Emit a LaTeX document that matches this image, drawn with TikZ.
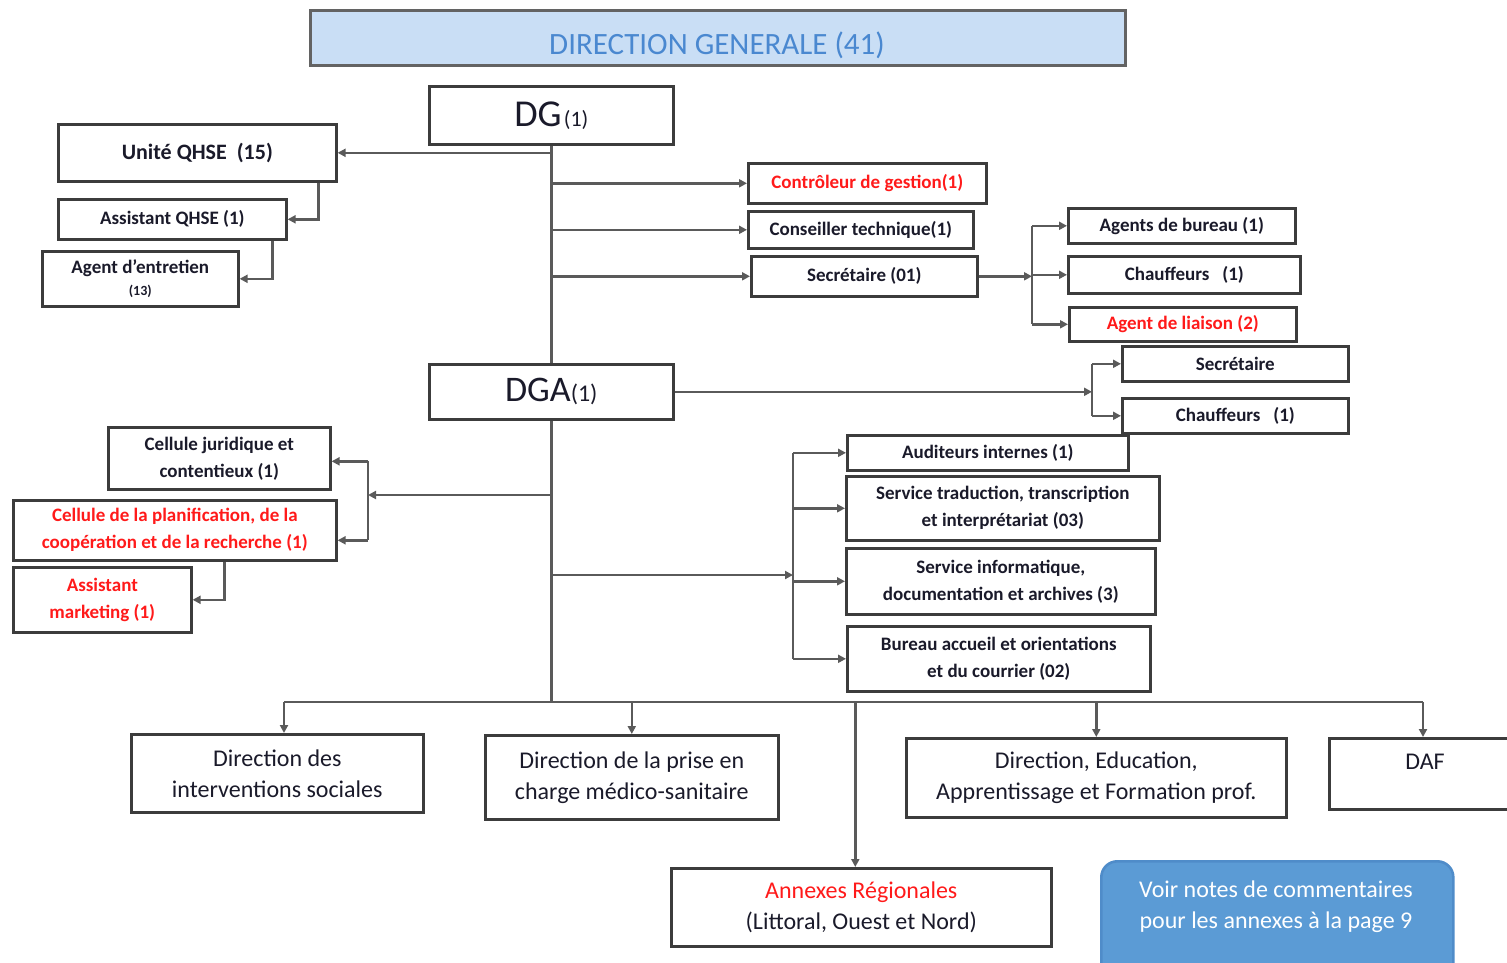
\documentclass[tikz,border=0pt]{standalone}
\usepackage{fontspec}
\setmainfont{Carlito}
\usetikzlibrary{arrows.meta}
\definecolor{linec}{HTML}{5A5A5A}
\definecolor{boxc}{HTML}{3C3C3C}
\definecolor{redt}{HTML}{FF1A1A}
\definecolor{hdrfill}{HTML}{C9DEF5}
\definecolor{hdrtext}{HTML}{4A88D0}
\definecolor{notefill}{HTML}{5B9BD5}
\definecolor{notedraw}{HTML}{4F8CC9}
\definecolor{txt}{HTML}{1A1A2A}
\tikzset{
  box/.style={draw=boxc, line width=2.6pt, fill=white, inner sep=0pt, anchor=north west, align=center, text=txt},
  sm/.style={font=\bfseries\fontsize{19}{27}\selectfont},
  big/.style={font=\fontsize{24}{31}\selectfont},
  conn/.style={draw=linec, line width=2.4pt},
  arr/.style={conn, -{Triangle[length=8pt,width=8pt]}},
}
\begin{document}
\begin{tikzpicture}[x=1pt,y=-1pt]
\useasboundingbox (0,0) rectangle (1507,962);
\clip (0,0) rectangle (1507,962);
% header
\node[box, draw=boxc!80, fill=hdrfill, minimum width=815, minimum height=55] (hdr) at (309,9) {};
\node[text=hdrtext, font=\fontsize{31}{33}\selectfont] (hdrt) at (717,45) {DIRECTION GENERALE (41)};
% top level
\node[box, minimum width=244, minimum height=58] (dg) at (428,85) {{\fontsize{38}{40}\selectfont DG}~{\fontsize{22}{24}\selectfont (1)}};
\node[box, minimum width=244, minimum height=55] (dga) at (428,363) {{\fontsize{36}{40}\selectfont DGA}{\fontsize{24}{24}\selectfont (1)}};
% left top
\node[box, font=\bfseries\fontsize{22}{26}\selectfont, minimum width=278, minimum height=57] (qhse) at (57,123) {Unité QHSE~~(15)};
\node[box, sm, minimum width=228, minimum height=40] (aqhse) at (57,198) {Assistant QHSE (1)};
\node[box, sm, minimum width=196, minimum height=55] (agent) at (41,250) {Agent d'entretien\\[-5pt]{\fontsize{14}{15}\selectfont (13)}};
% right top
\node[box, sm, text=redt, minimum width=238, minimum height=40] (ctrl) at (747,162) {Contrôleur de gestion(1)};
\node[box, sm, minimum width=225, minimum height=37] (cons) at (747,210) {Conseiller technique(1)};
\node[box, sm, minimum width=226, minimum height=40] (sec) at (750,255) {Secrétaire (01)};
\node[box, sm, minimum width=227, minimum height=35] (bur) at (1067,207) {Agents de bureau (1)};
\node[box, sm, minimum width=232, minimum height=37] (chf) at (1067,255) {Chauffeurs~~~(1)};
\node[box, sm, text=redt, minimum width=227, minimum height=34] (liai) at (1068,306) {Agent de liaison (2)};
\node[box, sm, minimum width=226, minimum height=35] (sec2) at (1121,345) {Secrétaire};
\node[box, sm, minimum width=226, minimum height=35] (chf2) at (1121,397) {Chauffeurs~~~(1)};
% left middle
\node[box, sm, minimum width=222, minimum height=62] (cjur) at (107,426) {Cellule juridique et\\contentieux (1)};
\node[box, sm, text=redt, minimum width=323, minimum height=60] (cplan) at (12,499) {Cellule de la planification, de la\\coopération et de la recherche (1)};
\node[box, sm, text=redt, minimum width=178, minimum height=65] (mkt) at (12,566) {Assistant\\marketing (1)};
% right middle
\node[box, sm, minimum width=281, minimum height=35] (aud) at (846,434) {Auditeurs internes (1)};
\node[box, sm, minimum width=313, minimum height=64] (trad) at (845,475) {Service traduction, transcription\\et interprétariat (03)};
\node[box, sm, minimum width=309, minimum height=66] (info) at (845,547) {Service informatique,\\documentation et archives (3)};
\node[box, sm, minimum width=303, minimum height=65] (bacc) at (846,625) {Bureau accueil et orientations\\et du courrier (02)};
% bottom
\node[box, big, minimum width=292, minimum height=78] (dis) at (130,733) {Direction des\\interventions sociales};
\node[box, big, minimum width=293, minimum height=84] (dpc) at (484,734) {Direction de la prise en\\charge médico-sanitaire};
\node[box, big, minimum width=380, minimum height=79] (dea) at (905,737) {Direction, Education,\\Apprentissage et Formation prof.};
\node[box, minimum width=200, minimum height=71] (daf) at (1328,737) {};
\node[big, text=txt] (daft) at (1425,762) {DAF};
\node[box, big, minimum width=380, minimum height=78] (ann) at (670,867) {\textcolor{redt}{Annexes Régionales}\\(Littoral, Ouest et Nord)};
\node[box, big, draw=notedraw, fill=notefill, text=white, rounded corners=16pt, minimum width=352, minimum height=120] (note) at (1100,860) {};
\node[big, text=white, align=center] (notet) at (1276,907) {Voir notes de commentaires\\pour les annexes à la page 9};
% connectors
\coordinate (busL) at (284,702);
\coordinate (busR) at (1423,702);
\draw[conn] (dg.south) -- (dg.south |- dga.north);
\draw[conn] (dga.south) -- (dga.south |- busL);
\draw[conn] (busL) -- (busR);
\draw[arr] (busL) -- (busL |- dis.north);
\draw[arr] (dpc.north |- busL) -- (dpc.north);
\draw[arr] (dea.north |- busL) -- (dea.north);
\draw[arr] (busR) -- (busR |- daf.north);
\draw[arr] ([xshift=-6pt]ann.north |- busL) -- ([xshift=-6pt]ann.north);
% QHSE chain
\draw[arr] (dg.south |- qhse.east) -- (qhse.east);
\draw[arr] ([xshift=-19pt]qhse.south east) |- (aqhse.east);
\draw[arr] ([xshift=-15pt]aqhse.south east) |- (agent.east);
% DG right branches
\draw[arr] (dg.south |- ctrl.west) -- (ctrl.west);
\draw[arr] (dg.south |- cons.west) -- (cons.west);
\draw[arr] (dg.south |- sec.west) -- (sec.west);
\coordinate (j1) at (1032,275);
\draw[arr] (sec.east) -- (sec.east -| j1);
\draw[conn] (j1 |- bur.west) -- (j1 |- liai.west);
\draw[arr] (j1 |- bur.west) -- (bur.west);
\draw[arr] (j1 |- chf.west) -- (chf.west);
\draw[arr] (j1 |- liai.west) -- (liai.west);
% DGA right
\coordinate (j2) at (1092,390);
\draw[arr] (dga.east) -- (dga.east -| j2);
\draw[conn] (j2 |- sec2.west) -- (j2 |- chf2.west);
\draw[arr] (j2 |- sec2.west) -- (sec2.west);
\draw[arr] (j2 |- chf2.west) -- (chf2.west);
% DGA left
\coordinate (j3) at (368,495);
\draw[arr] (dga.south |- j3) -- (j3);
\draw[conn] ([yshift=-3pt]j3 |- cjur.east) -- ([yshift=-10pt]j3 |- cplan.east);
\draw[arr] ([yshift=-3pt]j3 |- cjur.east) -- ([yshift=-3pt]cjur.east);
\draw[arr] ([yshift=-10pt]j3 |- cplan.east) -- ([yshift=-10pt]cplan.east);
\draw[arr] ([xshift=-113pt]cplan.south east) |- (mkt.east);
% DGA lower right
\coordinate (j4) at (793,575);
\draw[arr] (dga.south |- j4) -- (j4);
\draw[conn] (j4 |- aud.west) -- (j4 |- bacc.west);
\draw[arr] (j4 |- aud.west) -- (aud.west);
\draw[arr] (j4 |- trad.west) -- (trad.west);
\draw[arr] (j4 |- info.west) -- (info.west);
\draw[arr] (j4 |- bacc.west) -- (bacc.west);
\end{tikzpicture}
\end{document}
